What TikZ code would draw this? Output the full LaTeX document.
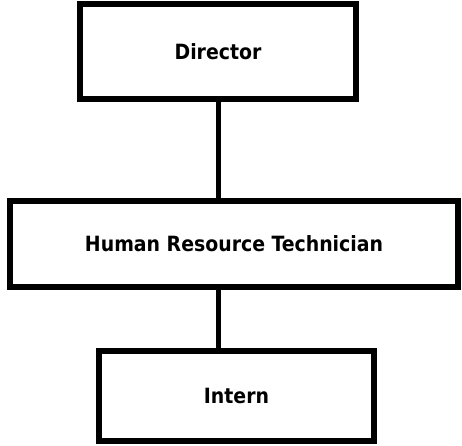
\documentclass[tikz,border=0pt]{standalone}
\usepackage{fontspec}
\setmainfont{DejaVu Sans Condensed}
\usepackage{tikz}
\usetikzlibrary{positioning}
\tikzset{
  post/.style={rectangle, draw=black, line width=6pt, fill=white,
               outer sep=0pt, inner sep=0pt,
               font=\fontsize{21}{24}\selectfont\bfseries,
               minimum height=#1},
  post/.default=90pt,
  link/.style={draw=black, line width=5pt},
}

\begin{document}
\begin{tikzpicture}[x=1pt, y=1pt]
  \useasboundingbox (0,0) rectangle (462,445);
  %% chain of posts
  \node[post=95pt, minimum width=276pt] (dir) at (218,393.5) {Director};
  \node[post=86pt, minimum width=448pt, below=102pt of dir, xshift=16pt] (hrt)
    {Human Resource Technician};
  \node[post=90pt, minimum width=275pt, below=64pt of hrt, xshift=2.5pt] (intern)
    {Intern};
  %% reporting lines
  \draw[link] (dir.south) -- (dir.south |- hrt.north);
  \draw[link] (hrt.south -| dir.south) -- (intern.north -| dir.south);
\end{tikzpicture}
\end{document}
